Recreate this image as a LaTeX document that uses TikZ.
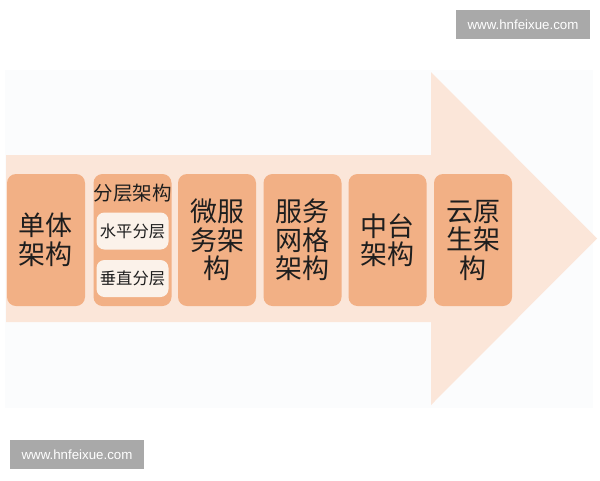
\documentclass[tikz,border=0pt]{standalone}
\usepackage{fontspec}
\setmainfont{Liberation Sans}
\newfontfamily\cjk{Noto Sans CJK SC}
\definecolor{bglight}{HTML}{FBFCFD}
\definecolor{shaftc}{HTML}{FBE6D9}
\definecolor{boxc}{HTML}{F2B085}
\definecolor{innerc}{HTML}{FBF2EA}
\definecolor{txtc}{HTML}{1E1E1E}
\definecolor{wmc}{HTML}{A9A9A9}
\begin{document}
\begin{tikzpicture}[x=1pt,y=-1pt,
  archbox/.style={fill=boxc, rounded corners=9pt, minimum width=78pt, minimum height=132pt, inner sep=0pt,
    text=txtc, align=center, font=\cjk\fontsize{27}{28.5}\selectfont},
  innerbox/.style={fill=innerc, rounded corners=8pt, minimum width=72pt, minimum height=37pt, inner sep=0pt,
    text=txtc, font=\cjk\fontsize{16.3}{18}\selectfont},
  titletext/.style={text=txtc, inner sep=0pt, font=\cjk\fontsize{19.5}{21}\selectfont},
  watermark/.style={fill=wmc, text=white, minimum width=134pt, minimum height=29.5pt, inner sep=0pt,
    font=\fontsize{13.3}{15}\selectfont}]
\useasboundingbox (0,0) rectangle (600,480);
\fill[white] (0,0) rectangle (600,480);
\fill[bglight] (5,70) rectangle (593,408);
\fill[shaftc] (6,155) -- (431,155) -- (431,72) -- (597,238.5) -- (431,405) -- (431,322) -- (6,322) -- cycle;
\node[archbox] (b1) at (46,240) {单体\\架构};
\node[archbox] (b2) at (132.5,240) {};
\node[titletext] (t2) at (132.5,193) {分层架构};
\node[innerbox] (h2) at (132.5,231) {水平分层};
\node[innerbox] (v2) at (132.5,278.5) {垂直分层};
\node[archbox] (b3) at (217,240) {微服\\务架\\构};
\node[archbox] (b4) at (302.5,240) {服务\\网格\\架构};
\node[archbox] (b5) at (387.5,240) {中台\\架构};
\node[archbox] (b6) at (473,240) {云原\\生架\\构};
\node[watermark] (w1) at (523,24.5) {www.hnfeixue.com};
\node[watermark] (w2) at (77,454.5) {www.hnfeixue.com};
\end{tikzpicture}
\end{document}
